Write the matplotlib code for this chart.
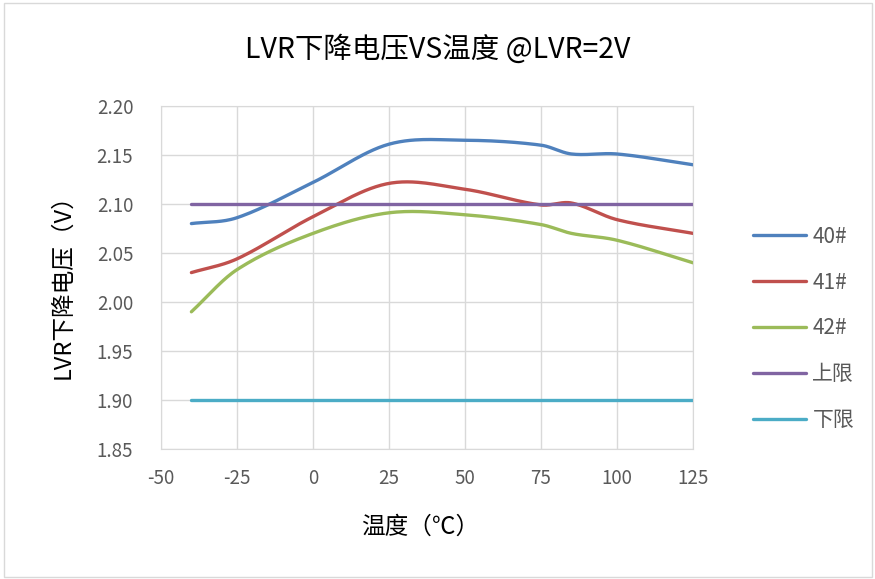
import numpy as np
import matplotlib
matplotlib.use("Agg")
import matplotlib.pyplot as plt
from matplotlib.patches import Rectangle

plt.rcParams['font.family'] = ['Noto Sans CJK SC', 'DejaVu Sans']
plt.rcParams['axes.unicode_minus'] = False

# data
temps = [-40, -25, 0, 25, 50, 75, 85, 100, 125]
v40 = [2.080, 2.086, 2.122, 2.161, 2.165, 2.160, 2.151, 2.151, 2.140]
v41 = [2.030, 2.044, 2.087, 2.121, 2.115, 2.099, 2.101, 2.084, 2.070]
v42 = [1.990, 2.033, 2.070, 2.091, 2.089, 2.079, 2.070, 2.063, 2.040]
upper = [2.10] * len(temps)
lower = [1.90] * len(temps)

series = [("40#", v40, "#4F81BD"),
          ("41#", v41, "#C0504D"),
          ("42#", v42, "#9BBB59"),
          ("上限", upper, "#8064A2"),
          ("下限", lower, "#4BACC6")]


def smooth(x, y, n=30):
    # smoothed line like excel: cubic hermite with catmull-rom slopes
    x = np.asarray(x, float)
    y = np.asarray(y, float)
    m = np.zeros_like(y)
    m[1:-1] = (y[2:] - y[:-2]) / (x[2:] - x[:-2])
    m[0] = (y[1] - y[0]) / (x[1] - x[0])
    m[-1] = (y[-1] - y[-2]) / (x[-1] - x[-2])
    t = np.linspace(0, 1, n)
    xs, ys = [], []
    for i in range(len(x) - 1):
        d = x[i + 1] - x[i]
        h00 = 2 * t ** 3 - 3 * t ** 2 + 1
        h10 = t ** 3 - 2 * t ** 2 + t
        h01 = -2 * t ** 3 + 3 * t ** 2
        h11 = t ** 3 - t ** 2
        xs.append(x[i] + t * d)
        ys.append(h00 * y[i] + h10 * d * m[i] + h01 * y[i + 1] + h11 * d * m[i + 1])
    return np.concatenate(xs), np.concatenate(ys)


fig = plt.figure(figsize=(8.75, 5.79), dpi=100)
fig.patches.append(Rectangle((0.004, 0.004), 0.992, 0.99, transform=fig.transFigure,
                             fill=False, edgecolor="#d9d9d9", linewidth=1))
ax = fig.add_axes([0.184, 0.2245, 0.608, 0.5925])

for name, vals, col in series:
    sx, sy = smooth(temps, vals)
    ax.plot(sx, sy, color=col, linewidth=2.4, label=name, solid_capstyle="round")

ax.set_xlim(-50, 125)
ax.set_ylim(1.85, 2.20)
ax.set_xticks(np.arange(-50, 126, 25))
ax.set_yticks(np.arange(1.85, 2.201, 0.05))
ax.set_yticklabels([f"{v:.2f}" for v in np.arange(1.85, 2.201, 0.05)])

ax.grid(True, color="#d9d9d9", linewidth=1)
ax.set_axisbelow(True)
for s in ax.spines.values():
    s.set_color("#d9d9d9")
ax.tick_params(length=0, labelsize=13.5, colors="#595959")
ax.tick_params(axis="x", pad=14)
ax.tick_params(axis="y", pad=20)

fig.text(0.5, 1 - 50 / 579, "LVR下降电压VS温度 @LVR=2V", fontsize=20.5,
         ha="center", va="center")
fig.text(420 / 875, 1 - 527 / 579, "温度（℃）", fontsize=17, ha="center", va="center")
fig.text(63 / 875, 1 - 281 / 579, "LVR下降电压（V）", fontsize=17, ha="center",
         va="center", rotation=90)

leg = fig.legend(loc="center left", bbox_to_anchor=(753 / 875, 1 - 328.5 / 579),
                 frameon=False, fontsize=15, handlelength=2.55, labelspacing=1.15,
                 handletextpad=0.3, borderpad=0, borderaxespad=0)
for t in leg.get_texts():
    t.set_color("#595959")

fig.savefig("out.png", dpi=100)
